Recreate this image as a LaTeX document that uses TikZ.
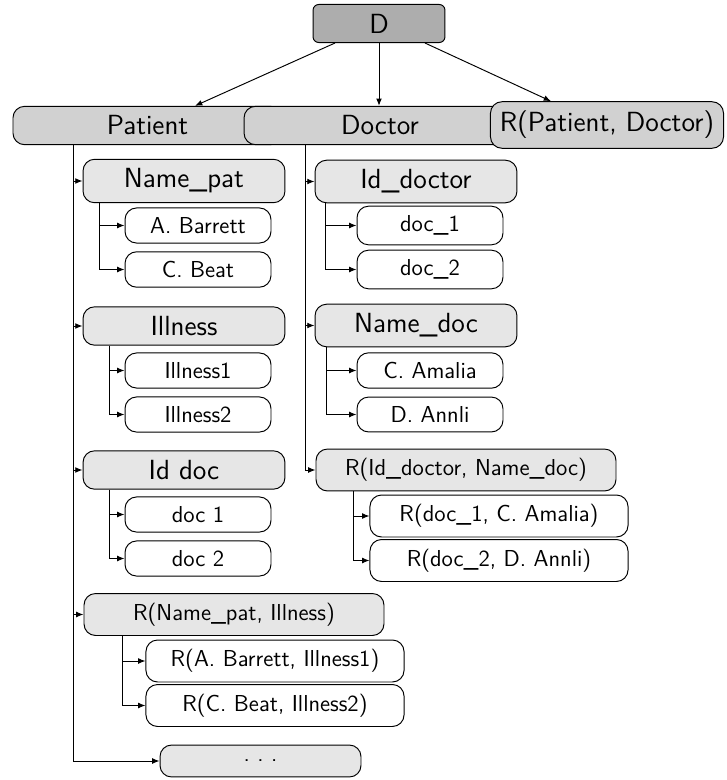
\documentclass[tikz,border=0pt]{standalone}
\usetikzlibrary{arrows.meta,calc}
\definecolor{dgray}{HTML}{ADADAD}
\definecolor{mgray}{HTML}{D1D1D1}
\definecolor{lgray}{HTML}{E6E6E6}
\begin{document}
\begin{tikzpicture}[x=0.52pt,y=-0.52pt,
  box/.style={draw,line width=0.5pt,rounded corners=6pt,inner sep=4.9pt,align=center,font=\sffamily\large},
  dnode/.style={box,fill=dgray,font=\sffamily\Large,rounded corners=3pt,minimum width=68.6pt},
  topbox/.style={box,fill=mgray,font=\sffamily\Large},
  midbox/.style={box,fill=lgray,font=\sffamily\Large,minimum width=105pt},
  rmid/.style={box,fill=lgray,minimum width=156pt},
  leaf/.style={box,fill=white,minimum width=75.9pt},
  rleaf/.style={box,fill=white,minimum width=134.2pt},
  morebox/.style={box,fill=lgray,minimum width=104.5pt,minimum height=16.6pt},
  arr/.style={-{Latex[length=3.8pt,width=3pt]},line width=0.5pt}
]
\useasboundingbox (0,0) rectangle (727,780);

% top level
\node[dnode] (D) at (379,23.5) {D};
\node[topbox,minimum width=139.9pt] (patient) at (147.5,125.5) {Patient};
\node[topbox,minimum width=141.4pt] (doctor) at (380,125.5) {Doctor};
\node[topbox] (rpd) at (607,125) {R(Patient, Doctor)};

% patient column
\node[midbox] (namepat) at (184,181) {Name\_pat};
\node[leaf] (ab) at (198,225.5) {A. Barrett};
\node[leaf] (cb) at (198,269.5) {C. Beat};
\node[midbox] (ill) at (184,326) {Illness};
\node[leaf] (i1) at (198,370.5) {Illness1};
\node[leaf] (i2) at (198,414.5) {Illness2};
\node[midbox] (iddoc) at (184,470) {Id doc};
\node[leaf] (d1) at (198,514.5) {doc 1};
\node[leaf] (d2) at (198,558.5) {doc 2};
\node[rmid] (rni) at (234,614.5) {R(Name\_pat, Illness)};
\node[rleaf] (rab) at (275,661) {R(A. Barrett, Illness1)};
\node[rleaf] (rcb) at (275,705.5) {R(C. Beat, Illness2)};
\node[morebox] (more) at (260.5,761) {\raisebox{0pt}[0pt][0pt]{.\ .\ .}};

% doctor column
\node[midbox] (iddoctor) at (416,181.5) {Id\_doctor};
\node[leaf] (dc1) at (430,225.5) {doc\_1};
\node[leaf] (dc2) at (430,269.5) {doc\_2};
\node[midbox] (namedoc) at (416,325.5) {Name\_doc};
\node[leaf] (ca) at (430,370.5) {C. Amalia};
\node[leaf] (da) at (430,414.5) {D. Annli};
\node[rmid] (rin) at (466,470) {R(Id\_doctor, Name\_doc)};
\node[rleaf] (rc) at (499,516) {R(doc\_1, C. Amalia)};
\node[rleaf] (rd) at (499,560.5) {R(doc\_2, D. Annli)};

% arrows from D
\draw[arr] ($(D.south)+(-44,0)$) -- ($(patient.north)+(47.5,0)$);
\draw[arr] (D.south) -- (D.south |- doctor.north);
\draw[arr] ($(D.south)+(46,0)$) -- ($(rpd.north)+(-56,0)$);

% patient trunk
\coordinate (pt) at ($(patient.south west)+(61,0)$);
\foreach \n in {namepat,ill,iddoc,rni,more} \draw[arr] (pt) |- (\n.west);

% patient branches
\coordinate (b1) at ($(namepat.south west)+(17,0)$);
\draw[arr] (b1) |- (ab.west);
\draw[arr] (b1) |- (cb.west);
\coordinate (b2) at ($(ill.south west)+(27,0)$);
\draw[arr] (b2) |- (i1.west);
\draw[arr] (b2) |- (i2.west);
\coordinate (b3) at ($(iddoc.south west)+(27,0)$);
\draw[arr] (b3) |- (d1.west);
\draw[arr] (b3) |- (d2.west);
\coordinate (b4) at ($(rni.south west)+(39,0)$);
\draw[arr] (b4) |- (rab.west);
\draw[arr] (b4) |- (rcb.west);

% doctor trunk
\coordinate (dt) at ($(doctor.south west)+(62,0)$);
\foreach \n in {iddoctor,namedoc,rin} \draw[arr] (dt) |- (\n.west);

% doctor branches
\coordinate (c1) at ($(iddoctor.south west)+(11,0)$);
\draw[arr] (c1) |- (dc1.west);
\draw[arr] (c1) |- (dc2.west);
\coordinate (c2) at ($(namedoc.south west)+(12,0)$);
\draw[arr] (c2) |- (ca.west);
\draw[arr] (c2) |- (da.west);
\coordinate (c3) at ($(rin.south west)+(38,0)$);
\draw[arr] (c3) |- (rc.west);
\draw[arr] (c3) |- (rd.west);
\end{tikzpicture}
\end{document}
